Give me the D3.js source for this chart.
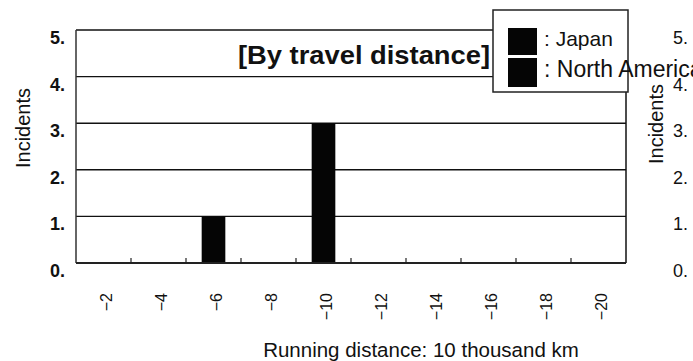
<!DOCTYPE html>
<html><head><meta charset="utf-8">
<script src="https://cdn.jsdelivr.net/npm/d3@7"></script>
<style>
body{margin:0;background:#fff;}
svg{display:block;}
text{fill:#111;}
</style></head>
<body>
<svg id="c" width="693" height="361"></svg>
<script>
const categories = ["−2","−4","−6","−8","−10","−12","−14","−16","−18","−20"];
const japan = [0,0,1,0,3,0,0,0,0,0];
const northAmerica = [0,0,0,0,0,0,0,0,0,0];
const yTicks = [0,1,2,3,4,5];
const yTickLabels = ["0.","1.","2.","3.","4.","5."];
const seriesNames = ["Japan","North America"];
const titleText = "[By travel distance]";
const xTitle = "Running distance: 10 thousand km";
const yTitle = "Incidents";

const svg = d3.select("#c");
const m = {left:76, right:626, top:30, bottom:263};
const x = d3.scaleBand().domain(categories).range([m.left,m.right]).paddingInner(0.57).paddingOuter(0.285);
const xb = d3.scaleBand().domain(categories).range([m.left,m.right]);
const y = d3.scaleLinear().domain([0,5]).range([m.bottom,m.top]);
const sans = "'Liberation Sans',Arial,sans-serif";

// gridlines
svg.append("g").selectAll("line").data(yTicks.filter(d=>d>0)).join("line")
  .attr("x1",m.left).attr("x2",m.right).attr("y1",d=>y(d)).attr("y2",d=>y(d))
  .attr("stroke","#111").attr("stroke-width",1.4);

// stacked bars
const stack = d3.stack().keys([0,1]).value((d,k)=>d[k]);
const rows = categories.map((c,i)=>[japan[i],northAmerica[i]]);
const layers = stack(rows);
layers.forEach(layer=>{
  svg.append("g").selectAll("rect").data(layer.map((d,i)=>({d,c:categories[i]})).filter(o=>o.d[1]>o.d[0])).join("rect")
    .attr("x",o=>x(o.c)).attr("width",x.bandwidth())
    .attr("y",o=>y(o.d[1])).attr("height",o=>y(o.d[0])-y(o.d[1]))
    .attr("fill","#050505");
});

// plot frame
svg.append("line").attr("x1",m.left).attr("x2",m.left).attr("y1",m.top).attr("y2",m.bottom).attr("stroke","#333").attr("stroke-width",1.5);
svg.append("line").attr("x1",m.right).attr("x2",m.right).attr("y1",m.top).attr("y2",m.bottom).attr("stroke","#111").attr("stroke-width",1.5);
svg.append("line").attr("x1",m.left).attr("x2",m.right).attr("y1",m.bottom).attr("y2",m.bottom).attr("stroke","#222").attr("stroke-width",2);

// x ticks (between categories, pointing up)
svg.append("g").selectAll("line").data(categories.slice(1)).join("line")
  .attr("x1",d=>xb(d)).attr("x2",d=>xb(d)).attr("y1",m.bottom).attr("y2",m.bottom-5)
  .attr("stroke","#222").attr("stroke-width",1.2);

// x tick labels rotated
svg.append("g").selectAll("text").data(categories).join("text")
  .attr("transform",d=>`translate(${xb(d)+xb.bandwidth()/2+8},293) rotate(-90)`)
  .attr("text-anchor","end").attr("font-family",sans).attr("font-size",16)
  .text(d=>d);

// y tick labels left
svg.append("g").selectAll("text").data(yTicks).join("text")
  .attr("x",65).attr("y",d=>y(d)+14).attr("text-anchor","end")
  .attr("font-family",sans).attr("font-size",18).attr("font-weight","bold")
  .text((d,i)=>yTickLabels[i]);

// y title left
svg.append("text").attr("transform","translate(30,128) rotate(-90)").attr("text-anchor","middle")
  .attr("font-family",sans).attr("font-size",20).text(yTitle);

// x title
svg.append("text").attr("x",421).attr("y",357).attr("text-anchor","middle")
  .attr("font-family",sans).attr("font-size",20.5).text(xTitle);

// title
svg.append("rect").attr("x",236).attr("y",m.top+1).attr("width",256).attr("height",y(4)-m.top-2).attr("fill","#fff");
svg.append("text").attr("x",238).attr("y",64).attr("text-anchor","start")
  .attr("font-family",sans).attr("font-size",25).attr("font-weight","bold")
  .attr("textLength",252).attr("lengthAdjust","spacingAndGlyphs").text(titleText);

// right-side duplicate axis (cropped neighbor chart)
svg.append("g").selectAll("text").data(yTicks).join("text")
  .attr("x",673).attr("y",d=>y(d)+14).attr("text-anchor","start")
  .attr("font-family",sans).attr("font-size",18)
  .text((d,i)=>yTickLabels[i]);
svg.append("text").attr("transform","translate(663,124) rotate(-90)").attr("text-anchor","middle")
  .attr("font-family",sans).attr("font-size",20).text(yTitle);

// legend
const lg = svg.append("g");
lg.append("rect").attr("x",493).attr("y",10).attr("width",135).attr("height",82)
  .attr("fill","#fff").attr("stroke","#222").attr("stroke-width",1.5);
const ly = [28,58];
lg.selectAll("rect.sw").data(seriesNames).join("rect").attr("class","sw")
  .attr("x",508).attr("y",(d,i)=>ly[i]).attr("width",29).attr("height",(d,i)=>i?29:27).attr("fill","#050505");
lg.selectAll("text").data(seriesNames).join("text")
  .attr("x",544).attr("y",(d,i)=>i?77:46).attr("font-family",sans).attr("font-size",(d,i)=>i?23:21)
  .text(d=>": "+d);
</script>
</body></html>
